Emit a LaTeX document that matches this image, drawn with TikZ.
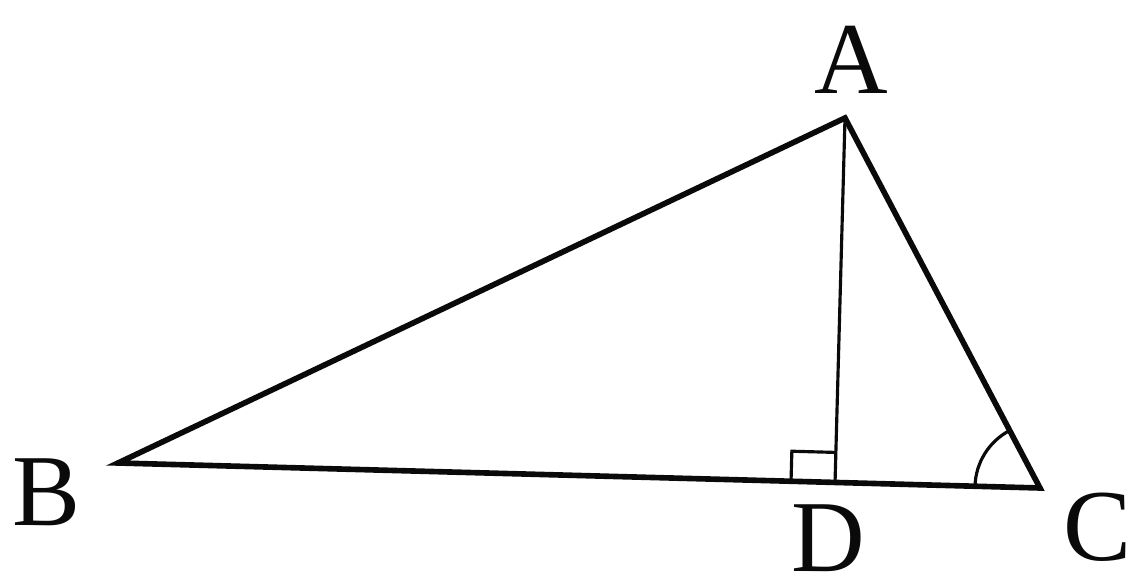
\documentclass[tikz,border=0pt]{standalone}
\usepackage{fontspec}
\setmainfont{Liberation Serif}
\usepackage{tikz}
\usetikzlibrary{calc, angles, positioning}
\definecolor{mydark}{RGB}{10,10,10}
\tikzset{
  side/.style={line width=1.6pt, color=mydark, line join=miter},
  altline/.style={line width=0.9pt, color=mydark},
  marker/.style={line width=0.9pt, color=mydark},
  vlabel/.style={inner sep=0pt, font=\fontsize{29}{34}\selectfont, color=mydark}
}
\begin{document}
\begin{tikzpicture}[x=0.01cm, y=-0.01cm]
  \useasboundingbox (0,0) rectangle (1133,582);
  \coordinate (A) at (845,118);
  \coordinate (B) at (118,463);
  \coordinate (C) at (1040,488);
  \coordinate (D) at ($(B)!(A)!(C)$);

  \draw[side] (B) -- (A) -- (C) -- cycle;
  \draw[altline] (A) -- (D);
  % right angle mark
  \coordinate (m1) at ($(D)!0.44cm!(B)$);
  \coordinate (m2) at ($(D)!0.30cm!(A)$);
  \draw[marker] (m1) -- ($(m1)+(m2)-(D)$) -- (m2);
  % angle at C
  \pic[draw, marker, angle radius=0.65cm] {angle = A--C--B};

  \node[vlabel] (lA) at (851,60)  {A};
  \node[vlabel] (lB) at (47,492)  {B};
  \node[vlabel] (lC) at (1098,527) {C};
  \node[vlabel] (lD) at (828,538) {D};
\end{tikzpicture}
\end{document}
